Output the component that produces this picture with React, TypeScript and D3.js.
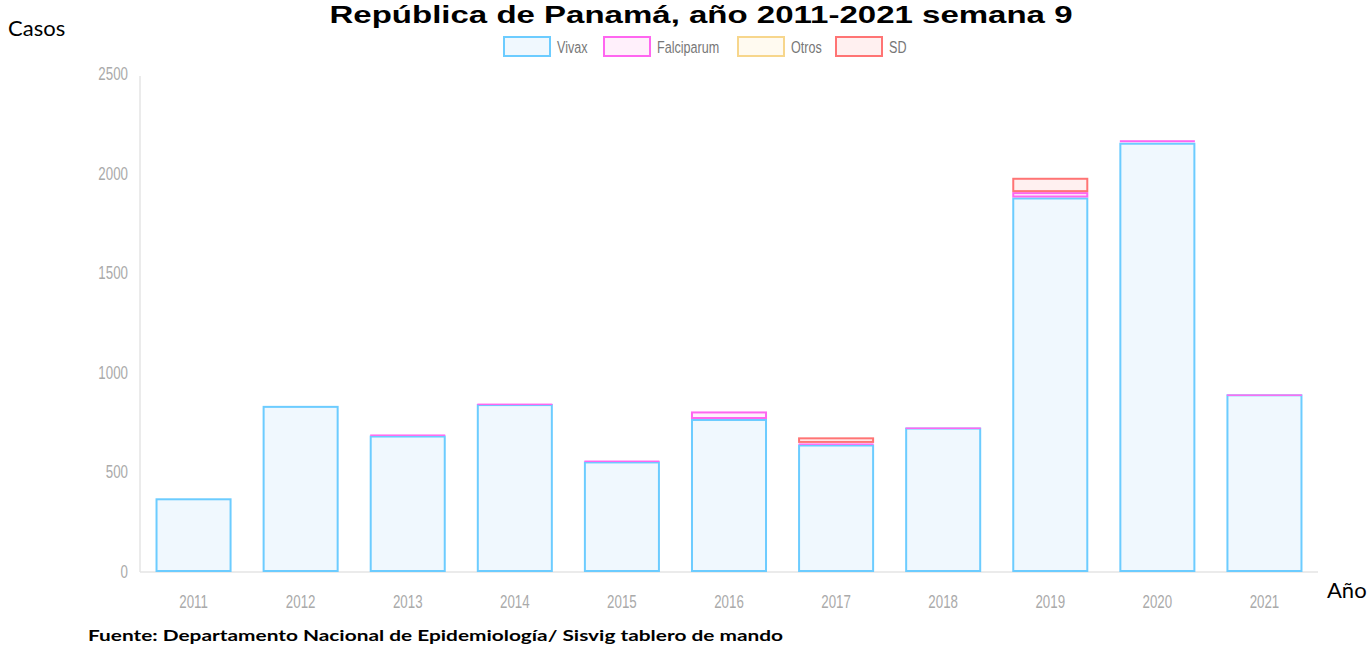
import React from "react";
import * as d3 from "d3";

const years = ["2011", "2012", "2013", "2014", "2015", "2016", "2017", "2018", "2019", "2020", "2021"];
const vivax = [370, 834, 685, 843, 555, 768, 640, 725, 1880, 2155, 892];
const falciparum = [0, 0, 8, 5, 7, 38, 8, 3, 27, 15, 2];
const otros = [0, 0, 0, 0, 0, 0, 0, 0, 0, 0, 0];
const sd = [0, 0, 0, 0, 0, 0, 28, 0, 72, 0, 0];
const yTicks = [0, 500, 1000, 1500, 2000, 2500];

const series = [
  { key: "Vivax", values: vivax, stroke: "#6cccff", fill: "#f0f8fe" },
  { key: "Falciparum", values: falciparum, stroke: "#ff66f0", fill: "#fff0fb" },
  { key: "Otros", values: otros, stroke: "#f7d68c", fill: "#fffaf0" },
  { key: "SD", values: sd, stroke: "#ff7474", fill: "#fff0f0" },
];

const W = 1371;
const H = 649;
const left = 140, right = 1318, top = 74, bottom = 572;
const sans = "'Liberation Sans', Arial, sans-serif";

// condensed label: squeeze horizontally like the reference
const Narrow = ({ x, y, anchor, size, fill, children }: any) => (
  <text transform={`translate(${x},${y}) scale(0.74,1)`} textAnchor={anchor} fontFamily={sans} fontSize={size} fill={fill}>
    {children}
  </text>
);

export default function App() {
  const x = d3.scaleBand<string>().domain(years).range([left, right]).paddingInner(0.29).paddingOuter(0.145);
  const y = d3.scaleLinear().domain([0, 2500]).range([bottom, top]);

  const rows = years.map((yr, i) => {
    const r: any = { year: yr };
    series.forEach((s) => (r[s.key] = s.values[i]));
    return r;
  });
  const stacked = d3.stack().keys(series.map((s) => s.key))(rows);

  const legendX = [503, 603, 737, 835];

  return (
    <svg width={W} height={H} style={{ position: "absolute", left: 0, top: 0, background: "#fff" }}>
      <text x={701} y={23} textAnchor="middle" fontFamily={sans} fontWeight="bold" fontSize={24} textLength={743} lengthAdjust="spacingAndGlyphs" fill="#000">
        República de Panamá, año 2011-2021 semana 9
      </text>
      <text x={8} y={36} fontFamily="Lato, 'Open Sans', sans-serif" fontSize={22} fill="#000">Casos</text>
      <text x={1327} y={598} fontFamily="Lato, 'Open Sans', sans-serif" fontSize={22} fill="#000">Año</text>
      <text x={88} y={641} fontFamily="Lato, 'Open Sans', sans-serif" fontWeight="bold" fontSize={16} textLength={695} lengthAdjust="spacingAndGlyphs" fill="#000">
        Fuente: Departamento Nacional de Epidemiología/ Sisvig tablero de mando
      </text>

      {series.map((s, i) => (
        <g key={s.key}>
          <rect x={legendX[i] + 1} y={37} width={46} height={19} fill={s.fill} stroke={s.stroke} strokeWidth={2} />
          <Narrow x={legendX[i] + 54} y={53} size={17} fill="#777">{s.key}</Narrow>
        </g>
      ))}

      <line x1={left} x2={left} y1={top + 2} y2={bottom} stroke="#e4e4e4" strokeWidth={1.5} />
      <line x1={left} x2={right} y1={bottom} y2={bottom} stroke="#e4e4e4" strokeWidth={1.5} />

      {yTicks.map((t) => (
        <Narrow key={t} x={128} y={y(t) + 6} anchor="end" size={18} fill="#aaa">{t}</Narrow>
      ))}
      {years.map((yr) => (
        <Narrow key={yr} x={(x(yr) as number) + x.bandwidth() / 2} y={608} anchor="middle" size={18} fill="#aaa">{yr}</Narrow>
      ))}

      {stacked.map((layer, li) => (
        <g key={layer.key}>
          {layer.map((d, i) => {
            const v = d[1] - d[0];
            if (v <= 0) return null;
            const x0 = x(years[i]) as number;
            const y0 = y(d[1]);
            const h = y(d[0]) - y(d[1]);
            return (
              <rect key={i} x={x0 + 1} y={y0 + 1} width={x.bandwidth() - 2} height={Math.max(h - 2, 0.5)}
                fill={series[li].fill} stroke={series[li].stroke} strokeWidth={h < 3 ? 1 : 2} />
            );
          })}
        </g>
      ))}
    </svg>
  );
}
